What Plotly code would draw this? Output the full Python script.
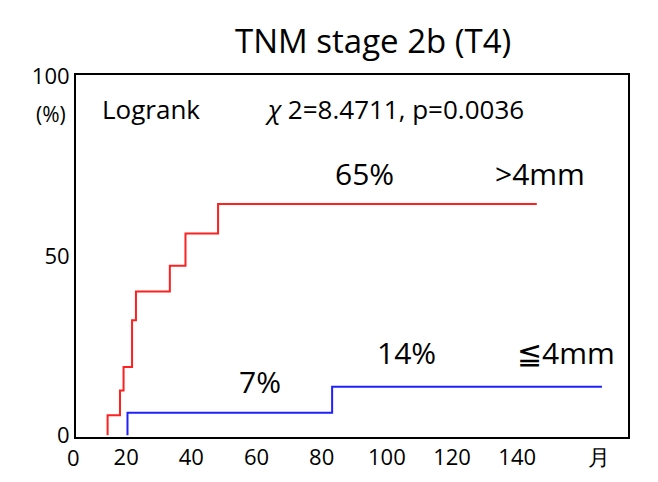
import plotly.graph_objects as go

red_x = [14.3, 18.1, 19.2, 21.8, 23.0, 33.4, 38.2, 48.2, 146]
red_y = [5.6, 12.5, 19.0, 32.1, 40.1, 47.3, 56.3, 64.5, 64.5]
blue_x = [20.4, 83.2, 166]
blue_y = [6.3, 13.5, 13.5]
xticks = [0, 20, 40, 60, 80, 100, 120, 140]

def steps(xs, ys):
    X, Y = [xs[0]], [0]
    for i, (x, y) in enumerate(zip(xs, ys)):
        X.append(x); Y.append(y)
        if i + 1 < len(xs):
            X.append(xs[i + 1]); Y.append(y)
    return X, Y

fig = go.Figure()
rx, ry = steps(red_x, red_y)
bx, by = steps(blue_x, blue_y)
fig.add_trace(go.Scatter(x=rx, y=ry, mode="lines", line=dict(color="#ff2020", width=2), showlegend=False))
fig.add_trace(go.Scatter(x=bx, y=by, mode="lines", line=dict(color="#2020ff", width=2), showlegend=False))

F = "Open Sans, Liberation Sans, Arial"
fig.update_layout(
    width=658, height=482, plot_bgcolor="white", paper_bgcolor="white",
    margin=dict(l=68, r=38, t=67, b=53),
    title=dict(text="TNM stage 2b (T4)", x=0.555, xanchor="center", y=0.955, font=dict(size=33, family=F, color="black")),
    font=dict(family=F, color="black", size=22),
)
fig.update_xaxes(range=[4.6, 174], tickvals=xticks[1:] + [165], ticktext=[str(t) for t in xticks[1:]] + ["月"],
                 showgrid=False, zeroline=False, showline=True, linecolor="black", linewidth=2, mirror=True,
                 ticks="", tickfont=dict(size=22), automargin=False)
fig.update_yaxes(range=[-0.5, 100.5], tickvals=[0, 50, 100], ticktext=["0", "50", "100"],
                 showgrid=False, zeroline=False, showline=True, linecolor="black", linewidth=2, mirror=True,
                 ticks="", tickfont=dict(size=22), automargin=False)
ann = [
    dict(x=-0.02, y=0, xref="paper", yref="paper", text=str(xticks[0]), yanchor="top", yshift=-3, showarrow=False, font=dict(size=22)),
    dict(x=-0.015, y=89.5, xref="paper", text="(%)", xanchor="right", showarrow=False, font=dict(size=21)),
    dict(x=12, y=91, text="Logrank", xanchor="left", showarrow=False, font=dict(size=26)),
    dict(x=62, y=91, text="<i>χ</i> 2=8.4711, p=0.0036", xanchor="left", showarrow=False, font=dict(size=26)),
    dict(x=93, y=73, text="65%", showarrow=False, font=dict(size=30)),
    dict(x=147, y=73, text=">4mm", showarrow=False, font=dict(size=30)),
    dict(x=106, y=23, text="14%", showarrow=False, font=dict(size=30)),
    dict(x=155, y=23, text="≦4mm", showarrow=False, font=dict(size=30)),
    dict(x=61, y=15, text="7%", showarrow=False, font=dict(size=30)),
]
for a in ann:
    a.setdefault("xref", "x"); a.setdefault("yref", "y")
fig.update_layout(annotations=ann)
fig.write_html("out.html")
